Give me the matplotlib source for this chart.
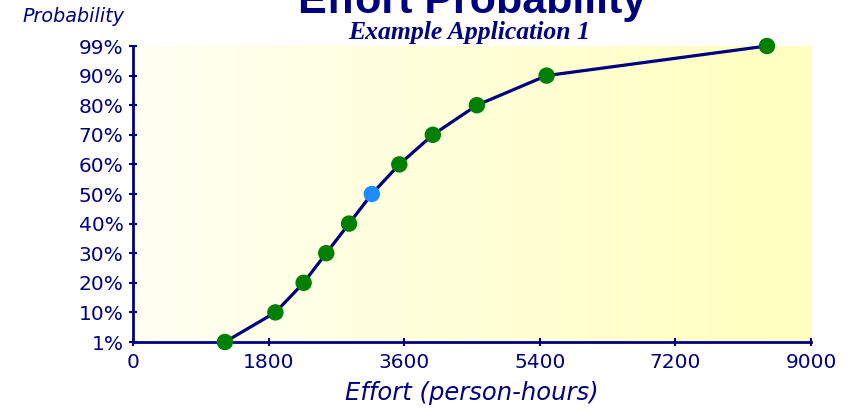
import matplotlib
matplotlib.use("Agg")
import matplotlib.pyplot as plt
import numpy as np
from matplotlib.colors import LinearSegmentedColormap

# Data
prob_labels = ["1%", "10%", "20%", "30%", "40%", "50%", "60%", "70%", "80%", "90%", "99%"]
effort = [1220, 1890, 2265, 2565, 2868, 3170, 3535, 3980, 4565, 5490, 8415]
x_ticks = [0, 1800, 3600, 5400, 7200, 9000]
highlight_label = "50%"

navy = "#000080"
green = "#008000"
blue = "#1E8CFF"

fig = plt.figure(figsize=(8.52, 4.08), dpi=100)
ax = fig.add_axes([133/852, 66/408, 678/852, 296/408])

ypos = list(range(len(prob_labels)))

# gradient background
cmap = LinearSegmentedColormap.from_list("bg", ["#FFFFF2", "#FFFFBE"])
grad = np.linspace(0, 1, 256).reshape(1, -1)
ax.imshow(grad, extent=[0, 1, 0, 1], transform=ax.transAxes, cmap=cmap,
          aspect="auto", zorder=0)

ax.plot(effort, ypos, color=navy, lw=2.3, zorder=2, clip_on=False)
colors = [blue if l == highlight_label else green for l in prob_labels]
ax.scatter(effort, ypos, s=140, c=colors, zorder=3, clip_on=False, edgecolors="none")

ax.set_xlim(0, 9000)
ax.set_ylim(0, len(prob_labels) - 1)
ax.set_xticks(x_ticks)
ax.set_xticklabels([str(v) for v in x_ticks])
ax.set_yticks(ypos)
ax.set_yticklabels(prob_labels)

for s in ["top", "right"]:
    ax.spines[s].set_visible(False)
for s in ["left", "bottom"]:
    ax.spines[s].set_color(navy)
    ax.spines[s].set_linewidth(2)

ax.tick_params(axis="both", colors=navy, direction="inout", length=5.5, width=1.5,
               labelsize=14.5, labelcolor=navy)
ax.tick_params(axis="y", pad=4)
ax.tick_params(axis="x", pad=5.5)

ax.set_xlabel("Effort (person-hours)", fontsize=17.5, style="italic", color=navy,
              labelpad=6)

fig.text(22/852, 1 - 17/408, "Probability", fontsize=13.8, style="italic",
         color=navy, va="center", ha="left")
fig.text(472/852, 1 - 13/408, "Effort Probability", fontsize=31, weight="bold",
         color=navy, ha="center", va="baseline", family="Liberation Sans")
fig.text(469/852, 1 - 39/408, "Example Application 1", fontsize=18.5, weight="bold",
         style="italic", color=navy, ha="center", va="baseline", family="Liberation Serif")

fig.savefig("out.png", dpi=100)
